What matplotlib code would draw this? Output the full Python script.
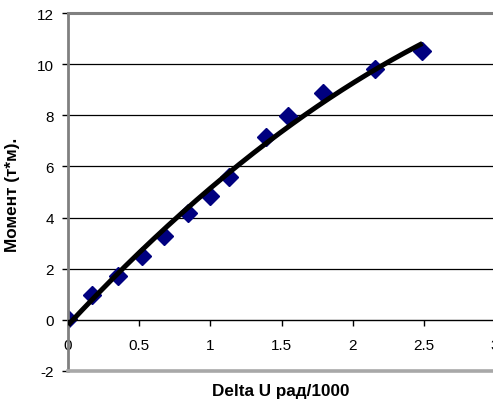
import numpy as np
import matplotlib
matplotlib.use("Agg")
import matplotlib.pyplot as plt

plt.rcParams['font.family'] = ['Liberation Sans', 'DejaVu Sans']
plt.rcParams['axes.unicode_minus'] = False

# measured points
delta_u = [0.0, 0.166, 0.353, 0.517, 0.674, 0.84, 1.0, 1.13, 1.39, 1.546, 1.79, 2.16, 2.49]
moment = [0.05, 0.99, 1.73, 2.51, 3.29, 4.17, 4.83, 5.6, 7.15, 7.98, 8.87, 9.8, 10.5]
x_ticks = [0, 0.5, 1, 1.5, 2, 2.5, 3]
x_tick_labels = ['0', '0.5', '1', '1.5', '2', '2.5', '3']
y_ticks = [-2, 0, 2, 4, 6, 8, 10, 12]

fig = plt.figure(figsize=(4.93, 4.14), dpi=100)
ax = fig.add_axes([68/493, 1 - 372/414, (495 - 68)/493, (372 - 14)/414])

# horizontal gridlines
for y in y_ticks[2:-1]:
    ax.axhline(y, color='black', lw=0.9, zorder=1)

# 2nd order trendline (as Excel)
coef = np.polyfit(delta_u, moment, 2)
xs = np.linspace(0, max(delta_u), 200)
ax.plot(xs, np.polyval(coef, xs), color='black', lw=3.6, zorder=3,
        solid_capstyle='butt')

ax.plot(delta_u, moment, linestyle='none', marker='D', markersize=9.5,
        color='#000080', zorder=2)

ax.set_xlim(0, 3)
ax.set_ylim(-2, 12)
ax.set_yticks(y_ticks)
ax.set_xticks(x_ticks)
ax.set_xticklabels(x_tick_labels)

ax.spines['right'].set_visible(False)
ax.spines['left'].set_color('#808080')
ax.spines['left'].set_linewidth(2)
ax.spines['top'].set_color('#808080')
ax.spines['top'].set_linewidth(2.2)
ax.spines['bottom'].set_position(('data', 0))
ax.spines['bottom'].set_color('black')
ax.spines['bottom'].set_linewidth(1)
ax.axhline(-2, color='#a8a8a8', lw=2.6, clip_on=False, zorder=5)

ax.tick_params(axis='x', direction='out', length=4, width=1, pad=9,
               labelsize=11, colors='black')
ax.tick_params(axis='y', direction='out', length=4, width=1, pad=6,
               labelsize=11, colors='black')

fig.text(281/493, 1 - 392/414, 'Delta U рад/1000', ha='center', va='center',
         fontsize=12.3, fontweight='bold')
fig.text(13/493, 1 - 195/414, 'Момент (т*м).', ha='center', va='center',
         rotation=90, fontsize=12.3, fontweight='bold')

fig.savefig('out.png', dpi=100)
